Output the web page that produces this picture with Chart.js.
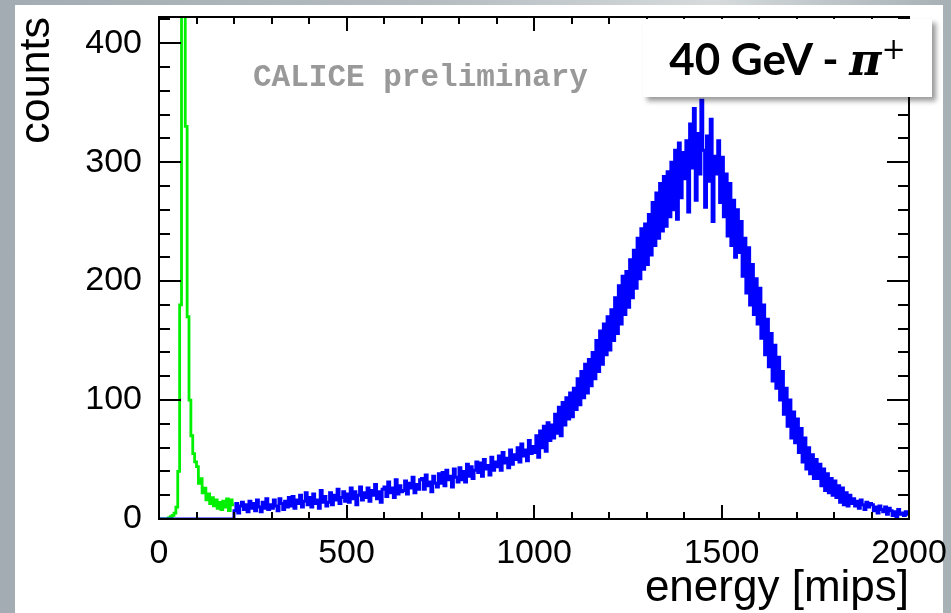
<!DOCTYPE html>
<html>
<head>
<meta charset="utf-8">
<script src="https://cdn.jsdelivr.net/npm/chart.js@4.4.1/dist/chart.umd.min.js"></script>
<style>
  html, body { margin: 0; padding: 0; }
  body {
    width: 951px; height: 613px; overflow: hidden; position: relative;
    background: linear-gradient(90deg, #a2acb2 0%, #b4bcc0 45%, #d6dadb 75%, #b9c1c5 90%, #a6b0b5 100%);
  }
  #panel { position: absolute; left: 15px; top: 5px; width: 928px; height: 608px; background: #fff; }
  #grafica { position: absolute; left: 0; top: 0; }
  #marca {
    position: absolute; left: 253px; top: 60px;
    font-family: 'Liberation Mono', 'Courier New', monospace; font-weight: bold;
    font-size: 31px; color: #999; white-space: nowrap; line-height: 36px;
  }
  #caja {
    position: absolute; left: 643px; top: 19px; width: 289px; height: 78px;
    background: #fff; box-shadow: 4px 4px 5px rgba(0,0,0,0.4);
    font-family: Lato, 'Open Sans', sans-serif; font-weight: bold; font-size: 44px;
    line-height: 78px; text-align: center; white-space: nowrap;
  }
  #caja .pi { font-family: 'DejaVu Serif', serif; font-style: italic; }
  #caja sup { font-family: 'DejaVu Serif', serif; font-weight: normal; font-size: 29px; line-height: 0; }
</style>
</head>
<body>
<div id="panel"></div>
<canvas id="grafica" width="951" height="613"></canvas>
<div id="marca">CALICE preliminary</div>
<div id="caja">40 GeV - <span class="pi">π</span><sup>+</sup></div>
<script>
// datos (cuentas por bin)
const anchoBinVerde = 5;   // mips
const cuentasVerde = [0, 0, 0, 0, 0, 1, 2, 3, 5, 10, 40, 180, 450, 520, 330, 170, 100, 70, 55, 48,
    44, 30, 34, 22, 26, 16, 21, 13, 18, 11, 16, 9, 14, 8, 15, 10, 17, 7, 16, 12];

const anchoBinAzul = 5;    // mips
const cuentasAzul = [
    // 0 - 195: vacio
    0, 0, 0, 0, 0, 0, 0, 0, 0, 0, 0, 0, 0, 0, 0, 0, 0, 0, 0, 0,
    0, 0, 0, 0, 0, 0, 0, 0, 0, 0, 0, 0, 0, 0, 0, 0, 0, 0, 0, 0,
    7, 13, 5, 11, 14, 8, 12, 6, 15, 9,          // 200
    13, 7, 16, 10, 6, 14, 9, 17, 8, 12,         // 250
    9, 16, 11, 7, 17, 13, 8, 15, 10, 18,        // 300
    11, 19, 9, 16, 13, 20, 10, 15, 22, 12,      // 350
    18, 10, 21, 13, 16, 9, 24, 14, 19, 11,      // 400
    14, 22, 12, 20, 16, 25, 13, 18, 23, 15,     // 450
    21, 14, 26, 17, 23, 12, 20, 27, 16, 22,     // 500
    18, 26, 15, 24, 20, 29, 17, 23, 14, 25,     // 550
    27, 19, 31, 22, 26, 18, 33, 21, 28, 23,     // 600
    24, 32, 21, 30, 26, 35, 22, 29, 25, 33,     // 650
    34, 25, 37, 28, 31, 23, 36, 30, 27, 38,     // 700
    30, 39, 28, 41, 33, 36, 27, 42, 35, 31,     // 750
    43, 33, 40, 31, 46, 36, 44, 34, 41, 48,     // 800
    39, 47, 36, 50, 42, 45, 37, 52, 41, 48,     // 850
    44, 53, 41, 56, 47, 51, 43, 58, 46, 54,     // 900
    50, 60, 48, 63, 53, 58, 49, 66, 55, 61,     // 950
    56, 70, 52, 74, 60, 78, 57, 81, 66, 79,     // 1000
    68, 88, 72, 94, 70, 98, 79, 102, 84, 106,   // 1050
    86, 110, 92, 118, 96, 124, 102, 130, 106, 134,      // 1100
    112, 140, 118, 150, 124, 158, 130, 164, 138, 170,   // 1150
    142, 176, 150, 186, 156, 196, 164, 204, 172, 208,   // 1200
    178, 218, 186, 226, 194, 236, 202, 244, 210, 248,   // 1250
    214, 256, 222, 266, 230, 274, 236, 282, 242, 288,   // 1300
    246, 292, 254, 300, 260, 310, 252, 316, 270, 308,   // 1350
    286, 318, 258, 332, 295, 345, 268, 324, 290, 352,   // 1400
    310, 262, 322, 284, 336, 250, 305, 290, 318, 266,   // 1450
    304, 254, 290, 238, 282, 230, 268, 220, 260, 224,   // 1500
    250, 204, 236, 190, 228, 180, 214, 172, 202, 164,   // 1550
    194, 152, 180, 138, 168, 128, 156, 116, 146, 110,   // 1600
    136, 100, 124, 88, 110, 78, 100, 68, 90, 64,        // 1650
    84, 56, 76, 48, 68, 42, 60, 38, 54, 34,     // 1700
    50, 34, 46, 28, 42, 24, 38, 22, 34, 20,     // 1750
    32, 18, 28, 14, 26, 12, 22, 11, 20, 13,     // 1800
    17, 11, 15, 9, 16, 12, 8, 14, 10, 13,       // 1850
    12, 7, 10, 5, 11, 8, 6, 10, 4, 9,           // 1900
    7, 3, 6, 2, 8, 4, 5, 3, 6, 4                // 1950
];

const ticksX = [0, 500, 1000, 1500, 2000];
const ticksY = [0, 100, 200, 300, 400];

// pasar cuentas a puntos (borde izquierdo de cada bin + cierre)
function aEscalones(cuentas, ancho) {
    const pts = cuentas.map((c, i) => ({ x: i * ancho, y: c }));
    pts.push({ x: cuentas.length * ancho, y: cuentas[cuentas.length - 1] });
    return pts;
}

// marco y marcas hacia adentro, estilo ROOT
const marcoPlugin = {
    id: 'marco',
    afterDatasetsDraw(chart) {
        const { ctx, chartArea: a, scales } = chart;
        const sx = scales.x, sy = scales.y;
        ctx.save();
        ctx.strokeStyle = '#000';
        ctx.lineWidth = 2;
        ctx.beginPath();
        for (let v = 0; v <= 420; v += 20) {
            const y = Math.round(sy.getPixelForValue(v));
            const l = v % 100 === 0 ? 22 : 11;
            ctx.moveTo(a.left, y); ctx.lineTo(a.left + l, y);
            ctx.moveTo(a.right, y); ctx.lineTo(a.right - l, y);
        }
        for (let v = 0; v <= 2000; v += 100) {
            const x = Math.round(sx.getPixelForValue(v));
            const l = v % 500 === 0 ? 14 : 7;
            ctx.moveTo(x, a.bottom); ctx.lineTo(x, a.bottom - l);
            ctx.moveTo(x, a.top); ctx.lineTo(x, a.top + l);
        }
        ctx.stroke();
        ctx.strokeRect(a.left, a.top, a.right - a.left, a.bottom - a.top);
        ctx.restore();
    }
};

const fuenteEjes = "'Liberation Sans', Arial, sans-serif";

new Chart(document.getElementById('grafica'), {
    type: 'line',
    data: {
        datasets: [{
            label: 'pi+',
            data: aEscalones(cuentasAzul, anchoBinAzul),
            borderColor: '#0000ff',
            borderWidth: 3,
            stepped: true,
            pointRadius: 0,
            fill: false
        }, {
            label: 'mip',
            data: aEscalones(cuentasVerde, anchoBinVerde),
            borderColor: '#00f000',
            borderWidth: 2.8,
            stepped: true,
            pointRadius: 0,
            fill: false
        }]
    },
    options: {
        responsive: false,
        animation: false,
        layout: { padding: { top: 17, right: 42, left: 0, bottom: 0 } },
        plugins: { legend: { display: false }, tooltip: { enabled: false } },
        scales: {
            x: {
                type: 'linear', min: 0, max: 2000,
                afterFit: s => { s.height = 94; s.paddingLeft = 0; s.paddingRight = 0; },
                afterBuildTicks: s => { s.ticks = ticksX.map(v => ({ value: v })); },
                grid: { display: false, drawTicks: false },
                border: { display: false },
                ticks: {
                    color: '#000', padding: 14, font: { family: fuenteEjes, size: 34 },
                    callback: v => String(v)
                },
                title: {
                    display: true, text: 'energy [mips]', align: 'end', color: '#000',
                    font: { family: fuenteEjes, size: 44, lineHeight: 1 },
                    padding: { top: 0, bottom: 2 }
                }
            },
            y: {
                min: 0, max: 422,
                afterFit: s => { s.width = 159; s.paddingTop = 0; s.paddingBottom = 0; },
                afterBuildTicks: s => { s.ticks = ticksY.map(v => ({ value: v })); },
                grid: { display: false, drawTicks: false },
                border: { display: false },
                ticks: {
                    color: '#000', padding: 17, font: { family: fuenteEjes, size: 34 },
                    callback: v => String(v)
                },
                title: {
                    display: true, text: 'counts', align: 'end', color: '#000',
                    font: { family: fuenteEjes, size: 43, lineHeight: 1 },
                    padding: { top: 16, bottom: 0 }
                }
            }
        }
    },
    plugins: [marcoPlugin]
});
</script>
</body>
</html>
